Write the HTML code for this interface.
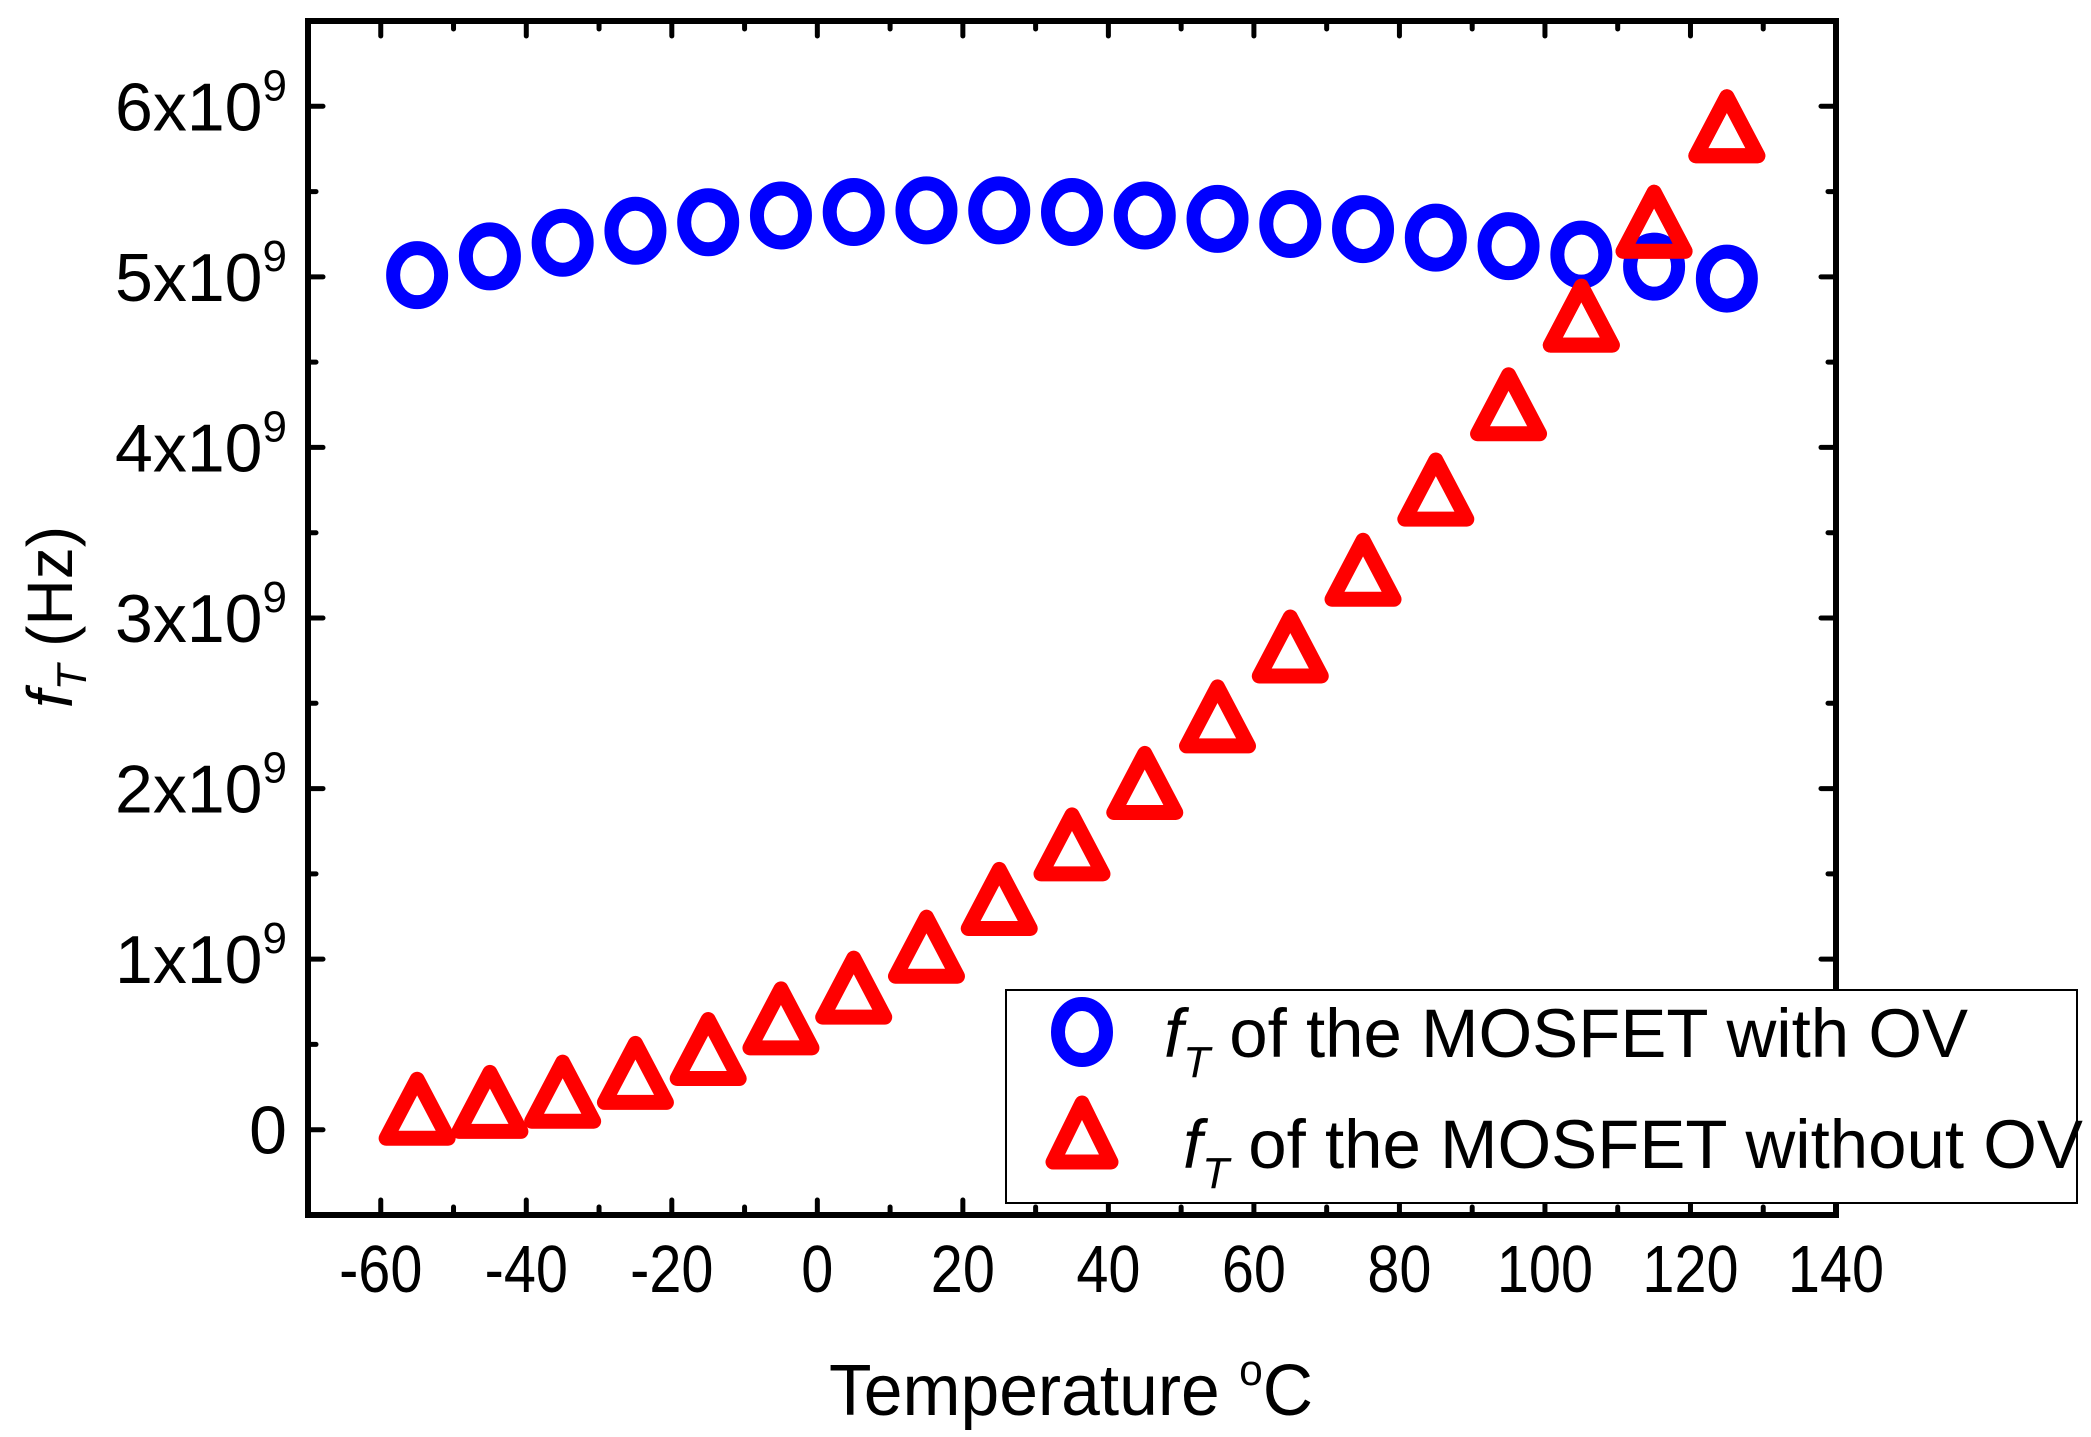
<!DOCTYPE html>
<html><head><meta charset="utf-8"><style>
html,body{margin:0;padding:0;background:#fff;}
svg{display:block;font-family:"Liberation Sans",Arial,sans-serif;}
</style></head>
<body>
<svg id="chart" width="2091" height="1437" viewBox="0 0 2091 1437" xmlns="http://www.w3.org/2000/svg">
<g id="ticks"></g>
<g id="marks"></g>
<g id="labels"></g>
<rect x="308" y="21" width="1528" height="1194" fill="none" stroke="#000" stroke-width="6"/>
<g>
<text id="ytitle" transform="translate(72,617) rotate(-90)" text-anchor="middle" font-size="64"><tspan font-style="italic">f</tspan><tspan font-style="italic" font-size="42" dy="14">T</tspan><tspan dy="-14"> (Hz)</tspan></text>
</g>
<text id="xtitle" x="829" y="1415" font-size="72">Temperature <tspan font-size="44" dy="-30">o</tspan><tspan dy="30">C</tspan></text>
<g>
<rect x="1006" y="990" width="1071" height="213" fill="#fff" stroke="#000" stroke-width="2"/>
<ellipse cx="1082" cy="1032" rx="24" ry="28" fill="none" stroke="#0000ff" stroke-width="14"/>
<polygon points="1082,1103 1053,1162 1111,1162" fill="none" stroke="#ff0000" stroke-width="15" stroke-linejoin="round"/>
<text id="leg1" x="1164" y="1057" font-size="69"><tspan font-style="italic">f</tspan><tspan font-style="italic" font-size="44" dy="20">T</tspan><tspan dy="-20"> of the MOSFET with OV</tspan></text>
<text id="leg2" x="1183" y="1168" font-size="69"><tspan font-style="italic">f</tspan><tspan font-style="italic" font-size="44" dy="20">T</tspan><tspan dy="-20"> of the MOSFET without OV</tspan></text>
</g>
</svg>
<script>
const temps = [-55,-45,-35,-25,-15,-5,5,15,25,35,45,55,65,75,85,95,105,115,125];
const withOV = [5.01,5.12,5.20,5.27,5.32,5.36,5.38,5.39,5.39,5.38,5.36,5.34,5.31,5.28,5.23,5.18,5.13,5.06,4.99];
const withoutOV = [0.12,0.16,0.22,0.33,0.47,0.65,0.83,1.07,1.35,1.67,2.03,2.42,2.83,3.28,3.75,4.25,4.77,5.32,5.88];
const xTicks = [-60,-40,-20,0,20,40,60,80,100,120,140];
const yTicks = [0,1,2,3,4,5,6];

const NS = "http://www.w3.org/2000/svg";
const L=308,R=1836,T=21,B=1215, X0=-70,X1=140,Y0=-0.5,Y1=6.5;
const sx = v => L + (v - X0) / (X1 - X0) * (R - L);
const sy = v => B - (v - Y0) / (Y1 - Y0) * (B - T);
function mk(tag, attrs, parent){const e=document.createElementNS(NS,tag);for(const k in attrs)e.setAttribute(k,attrs[k]);if(parent)parent.appendChild(e);return e;}
const tg=document.getElementById('ticks'), mg=document.getElementById('marks'), lg=document.getElementById('labels');

for(let v=-70; v<=140; v+=10){
  const major = xTicks.includes(v);
  const len = major?15:8, x=sx(v);
  const t1=mk('line',{x1:x,y1:B,x2:x,y2:B-len,stroke:'#000','stroke-width':5,'stroke-linecap':'round'},tg);
  
  
  const t2=mk('line',{x1:x,y1:T,x2:x,y2:T+len,stroke:'#000','stroke-width':5,'stroke-linecap':'round'},tg);
  
  
}
for(let v=-0.5; v<=6.5; v+=0.5){
  const major = Math.abs(v-Math.round(v))<1e-6;
  const len = major?15:8, y=sy(v);
  const t1=mk('line',{x1:L,y1:y,x2:L+len,y2:y,stroke:'#000','stroke-width':5,'stroke-linecap':'round'},tg);
  
  
  const t2=mk('line',{x1:R,y1:y,x2:R-len,y2:y,stroke:'#000','stroke-width':5,'stroke-linecap':'round'},tg);
  
  
}
xTicks.forEach(v=>{
  const t=mk('text',{x:sx(v),y:1292,'text-anchor':'middle','font-size':67},lg);
  t.textContent=String(v);
  
  
  const w=t.getComputedTextLength(); t.setAttribute('textLength',w*0.86); t.setAttribute('lengthAdjust','spacingAndGlyphs');
});
yTicks.forEach(v=>{
  const t=mk('text',{x:287,y:sy(v)+24,'text-anchor':'end','font-size':68},lg);
  
  
  if(v===0){t.textContent='0';}
  else{
    const a=mk('tspan',{},t); a.textContent=v+'x10';
    const b=mk('tspan',{'font-size':44,dy:-30},t); b.textContent='9';
  }
});
function tri(x,y,name){
  const p=mk('polygon',{points:`${x},${y-30} ${x-31},${y+29} ${x+31},${y+29}`,fill:'none',stroke:'#ff0000','stroke-width':15,'stroke-linejoin':'round'},mg);
  
  
}
temps.forEach((tv,i)=>{ tri(sx(tv), sy(withoutOV[i]), 'point-without-ov'); });
temps.forEach((tv,i)=>{
  const c=mk('ellipse',{cx:sx(tv),cy:sy(withOV[i]),rx:24,ry:27,fill:'none',stroke:'#0000ff','stroke-width':14},mg);
  
  
});
temps.forEach((tv,i)=>{ if(tv>=105) tri(sx(tv), sy(withoutOV[i]), 'point-without-ov-overlay'); });
const xt=document.getElementById('xtitle');
xt.setAttribute('textLength',484); xt.setAttribute('lengthAdjust','spacingAndGlyphs');
</script>
</body></html>
